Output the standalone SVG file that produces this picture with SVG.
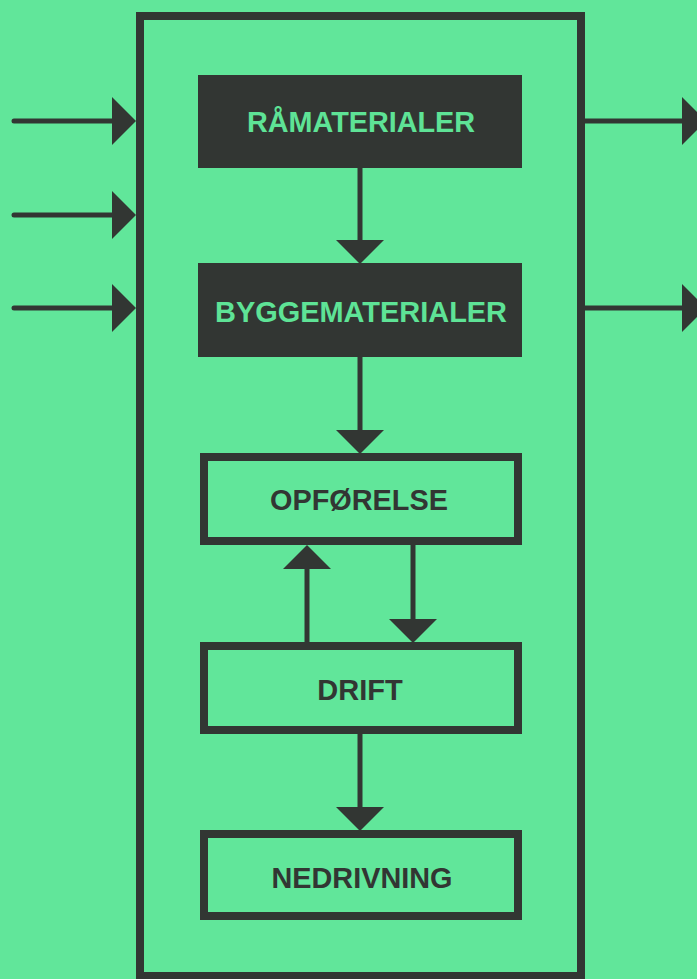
<svg xmlns="http://www.w3.org/2000/svg" width="697" height="979" viewBox="0 0 697 979">
  <style>
    .dark { fill: #323633; }
    .frame { fill: none; stroke: #323633; stroke-width: 8; }
    .box { fill: none; stroke: #323633; stroke-width: 8; }
    .wire { fill: none; stroke: #323633; stroke-width: 5; }
    .io { stroke-linecap: round; }
    .lbl-inv { font-family: "Liberation Sans", Arial, sans-serif; font-size: 30px; font-weight: bold; fill: #5ee396; text-anchor: middle; }
    .lbl { font-family: "Liberation Sans", Arial, sans-serif; font-size: 29px; font-weight: bold; fill: #323633; text-anchor: middle; }
  </style>
  <defs>
    <marker id="head" markerUnits="userSpaceOnUse" markerWidth="24" markerHeight="48" viewBox="0 0 24 48" refX="0" refY="24" orient="auto">
      <path d="M0,0 L24,24 L0,48 Z" fill="#323633"/>
    </marker>
  </defs>

  <rect width="697" height="979" fill="#61e69a"/>

  <!-- system boundary -->
  <rect id="system" class="frame" x="140" y="16" width="441" height="960"/>

  <g id="connectors">
    <!-- inputs -->
    <line class="wire io" x1="14" y1="121" x2="112" y2="121" marker-end="url(#head)"/>
    <line class="wire io" x1="14" y1="215" x2="112" y2="215" marker-end="url(#head)"/>
    <line class="wire io" x1="14" y1="308" x2="112" y2="308" marker-end="url(#head)"/>
    <!-- outputs -->
    <line class="wire" x1="585" y1="121" x2="682" y2="121" marker-end="url(#head)"/>
    <line class="wire" x1="585" y1="308" x2="682" y2="308" marker-end="url(#head)"/>
    <!-- process chain -->
    <line class="wire" x1="360" y1="168" x2="360" y2="240" marker-end="url(#head)"/>
    <line class="wire" x1="360" y1="357" x2="360" y2="430" marker-end="url(#head)"/>
    <line class="wire" x1="413" y1="545" x2="413" y2="619" marker-end="url(#head)"/>
    <line class="wire" x1="307" y1="642" x2="307" y2="569" marker-end="url(#head)"/>
    <line class="wire" x1="360" y1="734" x2="360" y2="807" marker-end="url(#head)"/>
  </g>

  <g id="raamaterialer">
    <rect class="dark" x="198" y="75" width="324" height="93"/>
    <text class="lbl-inv" x="361" y="132" textLength="228" lengthAdjust="spacingAndGlyphs">RÅMATERIALER</text>
  </g>

  <g id="byggematerialer">
    <rect class="dark" x="198" y="263" width="324" height="94"/>
    <text class="lbl-inv" x="361" y="322" textLength="292" lengthAdjust="spacingAndGlyphs">BYGGEMATERIALER</text>
  </g>

  <g id="opfoerelse">
    <rect class="box" x="204" y="457" width="314" height="84"/>
    <text class="lbl" x="359" y="510" textLength="178" lengthAdjust="spacingAndGlyphs">OPFØRELSE</text>
  </g>

  <g id="drift">
    <rect class="box" x="204" y="646" width="314" height="84"/>
    <text class="lbl" x="360" y="700">DRIFT</text>
  </g>

  <g id="nedrivning">
    <rect class="box" x="204" y="834" width="314" height="82"/>
    <text class="lbl" x="362" y="888" textLength="181" lengthAdjust="spacingAndGlyphs">NEDRIVNING</text>
  </g>
</svg>
